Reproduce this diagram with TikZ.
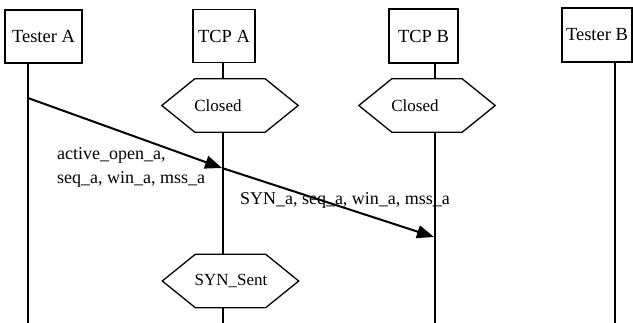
\documentclass[tikz,border=0pt]{standalone}
\usepackage{fontspec}
\setmainfont{Liberation Serif}
\usetikzlibrary{arrows.meta,calc}
\tikzset{
  box/.style={draw,line width=1.3pt,inner sep=0pt,font=\fontsize{18.5}{22}\selectfont},
  hexnode/.style={inner sep=0pt,minimum width=136pt,minimum height=53pt},
  hexlabel/.style={inner sep=0pt,font=\fontsize{17}{20}\selectfont},
  msglabel/.style={inner sep=0pt,font=\fontsize{18}{24}\selectfont},
  lifeline/.style={line width=1.4pt},
  msg/.style={line width=2pt,-{Triangle[length=17pt,width=13pt]}}
}
\newcommand{\hexdraw}[1]{\draw[line width=1.3pt] (#1.west) -- ([xshift=33pt]#1.north west) -- ([xshift=-33pt]#1.north east) -- (#1.east) -- ([xshift=-33pt]#1.south east) -- ([xshift=33pt]#1.south west) -- cycle;}
\begin{document}
\begin{tikzpicture}[x=1pt,y=-1pt]
\useasboundingbox (0,0) rectangle (633,323);
% boxes
\node[box,minimum width=77pt,minimum height=53pt] (tA) at (43.5,36.5) {Tester A};
\node[box,minimum width=62pt,minimum height=53pt] (cA) at (224,36) {TCP A};
\node[box,minimum width=69pt,minimum height=54pt] (cB) at (423.5,36) {TCP B};
\node[box,minimum width=70pt,minimum height=54pt] (tB) at (597,35) {Tester B};
% lifeline ends
\coordinate (eA) at (28,323);
\coordinate (eCA) at (223,323);
\coordinate (eCB) at (435,323);
\coordinate (eB) at (615,323);
% hexagons
\node[hexnode] (hA) at (230,105.5) {};
\node[hexnode] (hB) at (427,105.5) {};
\node[hexnode] (hS) at (230.5,281) {};
\hexdraw{hA}
\hexdraw{hB}
\hexdraw{hS}
\node[hexlabel] (lA) at (218,106) {Closed};
\node[hexlabel] (lB) at (415,106) {Closed};
\node[hexlabel] (lS) at (231,281) {SYN\_Sent};
% lifelines
\draw[lifeline] (tA.south -| eA) -- (eA);
\draw[lifeline] (cA.south -| eCA) -- (hA.north -| eCA);
\draw[lifeline] (hA.south -| eCA) -- (hS.north -| eCA);
\draw[lifeline] (hS.south -| eCA) -- (eCA);
\draw[lifeline] (cB.south -| eCB) -- (hB.north -| eCB);
\draw[lifeline] (hB.south -| eCB) -- (eCB);
\draw[lifeline] (tB.south -| eB) -- (eB);
% messages
\coordinate (m0) at (28,98);
\coordinate (m1) at (222,168);
\coordinate (m2) at (434,237);
\draw[msg] (m0) -- (m1);
\draw[msg] (m1) -- (m2);
\node[msglabel,anchor=west,align=left] (t1) at (57,167) {active\_open\_a,\\seq\_a, win\_a, mss\_a};
\node[msglabel] (t2) at (345,200) {SYN\_a, seq\_a, win\_a, mss\_a};
\end{tikzpicture}
\end{document}
